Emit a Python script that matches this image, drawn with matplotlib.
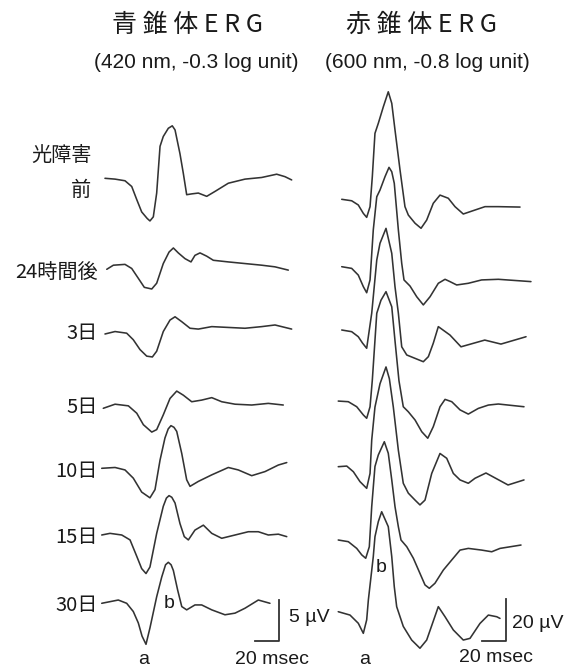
import matplotlib
matplotlib.use("Agg")
import matplotlib.pyplot as plt

plt.rcParams['font.family'] = ['Noto Sans CJK JP', 'Liberation Sans', 'DejaVu Sans']

# ---------------- data (time in msec, amplitude in microvolts) ----------------
row_labels = ["前", "24時間後", "3日", "5日", "10日", "15日", "30日"]

# Blue-cone ERG (420 nm), left column
blue_t = [
    [3.3, 11.7, 20, 25.6, 29.8, 33.9, 38.5, 40.8, 43.6, 46.4, 49.2, 51.9, 56.1, 59.4, 61.7, 65.8, 68.6, 71.4, 75.6, 81.1, 88.1, 95, 106.1, 120, 133.9, 146.4, 153.3, 158.9],
    [4.8, 10.3, 20, 25.6, 31.1, 36.1, 42.3, 46.4, 51.9, 56.7, 60.3, 64.4, 70, 75, 78.3, 82.5, 88.1, 93.6, 106.1, 120, 133.9, 145, 156.1],
    [3.3, 11.7, 21.4, 26.9, 32.5, 38.1, 42.8, 46.4, 51.9, 57.5, 61.7, 67.3, 74.2, 81.1, 92.3, 106.1, 120, 133.9, 145, 158.9],
    [1.9, 11.7, 22.8, 29.8, 35.3, 42.3, 46.4, 51.9, 57.5, 63.1, 68.6, 75.6, 83.9, 92.3, 100.6, 111.7, 125.6, 139.4, 151.9],
    [0.6, 11.7, 20, 26.9, 33.9, 40.8, 45, 49.2, 53.3, 56.0, 58.3, 60.8, 63.1, 67.3, 71.4, 74.2, 81.1, 92.3, 106.1, 114.4, 125.6, 136.7, 147.8, 154.8],
    [0.6, 7.5, 17.3, 24.2, 29.8, 33.9, 37.5, 40.8, 46.4, 51.9, 54.5, 56.7, 59.0, 61.7, 65.8, 69.4, 72.8, 78.3, 85.3, 92.3, 100.6, 111.7, 122.8, 131.1, 139.4, 147.8, 154.8],
    [0.6, 7.5, 14.4, 21.4, 26.9, 31.1, 34.2, 37.5, 40.8, 46.4, 50.6, 53.8, 56.1, 58.4, 60.3, 63.9, 67.3, 71.4, 78.3, 83.9, 92.3, 103.3, 111.7, 120, 131.1, 140.8],
]
blue_uv = [
    [0, -0.1, -0.3, -1.0, -2.6, -4.1, -4.9, -5.2, -4.7, -1.8, 3.9, 5.1, 6.1, 6.4, 5.9, 3.0, 0.6, -2.0, -1.9, -1.8, -2.2, -1.6, -0.6, -0.1, 0.1, 0.5, 0.2, -0.2],
    [0, 0.5, 0.6, 0.1, -1.1, -2.2, -2.4, -1.7, 0.7, 2.1, 2.6, 2.0, 1.3, 0.9, 1.7, 2.0, 1.6, 1.1, 0.9, 0.7, 0.5, 0.3, -0.1],
    [0, 0.3, 0.1, -0.7, -1.9, -2.7, -2.8, -2.1, 0.3, 1.7, 2.1, 1.5, 0.7, 0.6, 0.9, 0.8, 0.7, 0.9, 1.1, 0.6],
    [0, 0.5, 0.3, -0.6, -2.0, -2.9, -2.6, -0.8, 1.2, 2.1, 1.6, 0.8, 1.0, 1.3, 0.8, 0.5, 0.4, 0.6, 0.4],
    [0, 0.1, -0.2, -1.2, -2.9, -3.6, -2.6, 1.0, 3.7, 4.8, 5.2, 5.0, 4.5, 1.8, -1.4, -2.2, -1.6, -0.8, 0.1, -0.2, -0.9, -0.4, 0.4, 0.7],
    [0, 0.2, 0, -0.6, -2.6, -4.1, -4.7, -3.9, 0.2, 3.5, 4.5, 4.8, 4.6, 3.9, 1.4, -0.2, -0.6, 0.6, 1.2, 0.2, -0.4, 0, 0.4, 0.4, 0, 0.1, -0.2],
    [0, 0.2, 0.4, 0, -1.0, -2.4, -4.0, -5.0, -3.0, 0.8, 3.2, 4.7, 5.0, 4.7, 4.0, 1.6, -0.4, -0.8, -0.2, -0.2, -0.8, -1.4, -1.2, -0.6, 0.4, 0],
]

# Red-cone ERG (600 nm), right column
red_t = [
    [0.6, 8.9, 14.4, 18.6, 21.4, 24.2, 26.1, 28.3, 31.1, 35.3, 39.4, 42.3, 45, 49.2, 53.3, 56.1, 61.7, 66.7, 71.4, 76.9, 82.5, 89.4, 95, 101.9, 111.7, 120, 131.1, 149.2],
    [0.6, 8.9, 14.4, 18.6, 21.4, 24.2, 26.9, 29.8, 32.5, 36.7, 40, 42.3, 44.4, 47.8, 50.6, 52.5, 57.5, 63.1, 68.6, 74.2, 81.1, 86.7, 90.8, 96.4, 106.1, 117.2, 131.1, 158.3],
    [0.6, 8.9, 14.4, 17.9, 21.4, 25.6, 29.8, 32.5, 37.5, 42.3, 45, 47.8, 50.6, 54.8, 61.7, 68.6, 72.8, 76.9, 81.1, 90.8, 100, 119.8, 133.3, 154.2],
    [-2.3, 6.1, 13.1, 18.6, 21.4, 24.2, 26.1, 29.8, 33.3, 37.5, 42.3, 45, 48.3, 51.9, 56.1, 61.7, 67.3, 72.3, 76.9, 82.5, 86.7, 92.3, 99.2, 106.1, 114.4, 122.8, 131.1, 152.5],
    [-2.3, 4.8, 10.3, 15.8, 21.4, 24.2, 25.6, 28.3, 32.5, 37.5, 40.3, 43.6, 47.8, 51.9, 56.1, 61.7, 65.8, 70, 75.6, 82.5, 88.1, 93.6, 99.2, 106.1, 111.7, 120.8, 139.2, 152.5],
    [-2.3, 6.1, 13.1, 17.3, 20.6, 23.6, 25.6, 28.3, 31.1, 36.1, 39.4, 42.3, 45, 47.8, 50, 54.8, 60.3, 65.8, 70, 73.6, 78.3, 85.3, 92.3, 99.2, 106.1, 117.2, 125.6, 132.5, 150],
    [-2.3, 7.5, 14.4, 18.6, 21.4, 22.8, 26.9, 28.3, 31.1, 33.9, 39.4, 42.3, 44.4, 46.4, 51.9, 58.9, 65.8, 71.4, 81.1, 86.7, 93.6, 101.9, 107.5, 115.8, 122.8, 129.8, 132.5],
]
red_uv = [
    [0, -0.7, -2.7, -6.7, -8.6, -3.5, 10.8, 31.4, 36.2, 44.1, 51.2, 45.7, 33.0, 13.9, -3.5, -7.5, -11.4, -13.8, -9.9, -1.9, 2.0, 0.5, -3.5, -7.0, -5.1, -3.5, -3.5, -3.7],
    [0, -0.8, -4.0, -9.5, -12.4, -6.3, 17.5, 33.3, 36.5, 42.9, 47.3, 45.2, 39.7, 17.5, 1.6, -6.3, -9.2, -14.3, -18.2, -14.3, -7.9, -6.0, -7.1, -8.7, -7.9, -6.3, -6.0, -7.1],
    [0, -0.8, -3.2, -6.2, -8.7, 8.0, 33.3, 41.3, 48.4, 36.5, 20.6, 8.0, -8.0, -11.9, -13.5, -15.1, -12.7, -6.3, 1.6, -2.4, -8.0, -4.8, -6.7, -3.2],
    [0.3, 0, -2.4, -6.3, -7.9, -2.4, 10.3, 42.1, 48.3, 52.4, 45.2, 29.0, 10.0, -2.4, -4.8, -8.7, -14.3, -17.4, -11.9, -2.4, 1.1, 0, -3.9, -5.9, -3.2, -1.6, -1.1, -2.4],
    [0, 0.3, -2.4, -7.1, -10.3, -3.2, 12.7, 28.4, 39.5, 47.5, 41.9, 28.4, 7.8, -7.9, -12.6, -15.9, -18.2, -15.9, -3.2, 6.3, 4.0, -3.2, -6.3, -7.9, -5.5, -3.0, -8.7, -6.3],
    [0, -0.8, -4.0, -7.1, -8.7, -3.2, 15.9, 35.0, 40.5, 46.8, 41.3, 28.6, 15.9, 6.3, 0, -3.2, -8.7, -15.9, -21.4, -23.0, -20.6, -14.3, -9.5, -4.8, -4.0, -4.8, -5.6, -4.0, -2.4],
    [0, -1.6, -5.5, -10.3, -3.9, 5.6, 26.2, 35.7, 42.9, 47.6, 40.5, 26.2, 11.9, 2.4, -7.0, -13.5, -17.4, -13.5, 2.4, -2.4, -8.7, -13.5, -12.7, -5.6, -1.6, -2.4, -3.2],
]

# scale bars
blue_bar_uv = 5
red_bar_uv = 20
bar_ms = 20

# ---------------- layout ----------------
W, H = 565, 669
fig = plt.figure(figsize=(W / 100, H / 100), dpi=100)
fig.patch.set_facecolor("white")

px_per_ms = 1.2
blue_px_per_uv = 8.2
red_px_per_uv = 2.1
blue_x0, red_x0 = 101, 341
blue_base_px = [178.3, 269.3, 334, 408.3, 468.3, 535, 603.3]
red_base_px = [199.3, 266.7, 330, 401.7, 466.7, 540, 611.7]

axL = fig.add_axes([0, 0, 1, 1])
axR = fig.add_axes([0, 0, 1, 1])
for ax in (axL, axR):
    ax.set_axis_off()
    ax.patch.set_alpha(0)
axL.set_xlim(-blue_x0 / px_per_ms, (W - blue_x0) / px_per_ms)
axL.set_ylim(0, H / blue_px_per_uv)
axR.set_xlim(-red_x0 / px_per_ms, (W - red_x0) / px_per_ms)
axR.set_ylim(0, H / red_px_per_uv)

col = "#333333"
lw = 1.15
for t, v, b in zip(blue_t, blue_uv, blue_base_px):
    off = (H - b) / blue_px_per_uv
    axL.plot(t, [x + off for x in v], color=col, lw=lw,
             solid_joinstyle="round", solid_capstyle="round")
for t, v, b in zip(red_t, red_uv, red_base_px):
    off = (H - b) / red_px_per_uv
    axR.plot(t, [x + off for x in v], color=col, lw=lw,
             solid_joinstyle="round", solid_capstyle="round")

# scale bars
bx = (279 - blue_x0) / px_per_ms
by = (H - 641) / blue_px_per_uv
axL.plot([bx - bar_ms, bx, bx], [by, by, by + blue_bar_uv], color=col, lw=1.3)
rx = (506 - red_x0) / px_per_ms
ry = (H - 641) / red_px_per_uv
axR.plot([rx - bar_ms, rx, rx], [ry, ry, ry + red_bar_uv], color=col, lw=1.3)


def ftxt(x, y, s, size, ha="center", va="center", **kw):
    fig.text(x / W, 1 - y / H, s, fontsize=size, ha=ha, va=va, color="#1a1a1a", **kw)


lat = ['Liberation Sans', 'DejaVu Sans']
cjk = ['Noto Sans CJK JP', 'Liberation Sans', 'DejaVu Sans']

ftxt(188, 25, "青 錐 体 E R G", 18, family=cjk)
ftxt(421, 25, "赤 錐 体 E R G", 18, family=cjk)
ftxt(196, 62, "(420 nm, -0.3 log unit)", 15, family=lat)
ftxt(427, 62, "(600 nm, -0.8 log unit)", 15, family=lat)

ftxt(92, 155, "光障害", 14.5, ha="right", family=cjk)
label_y = [190, 272, 334, 407, 472, 537, 605]
label_x = [91, 98, 98, 98, 98, 98, 98]
for lab, lx, ly in zip(row_labels, label_x, label_y):
    ftxt(lx, ly, lab, 14.5, ha="right", family=cjk)

ftxt(144, 659, "a", 14, family=lat)
ftxt(169, 604, "b", 14, family=lat)
ftxt(365, 659, "a", 14, family=lat)
ftxt(381, 567, "b", 14, family=lat)
ftxt(289, 617, "5 µV", 14, ha="left", family=lat)
ftxt(512, 623, "20 µV", 14, ha="left", family=lat)
ftxt(272, 659, "20 msec", 14, family=lat)
ftxt(496, 658, "20 msec", 14, family=lat)

fig.savefig("out.png", dpi=100, facecolor="white")
